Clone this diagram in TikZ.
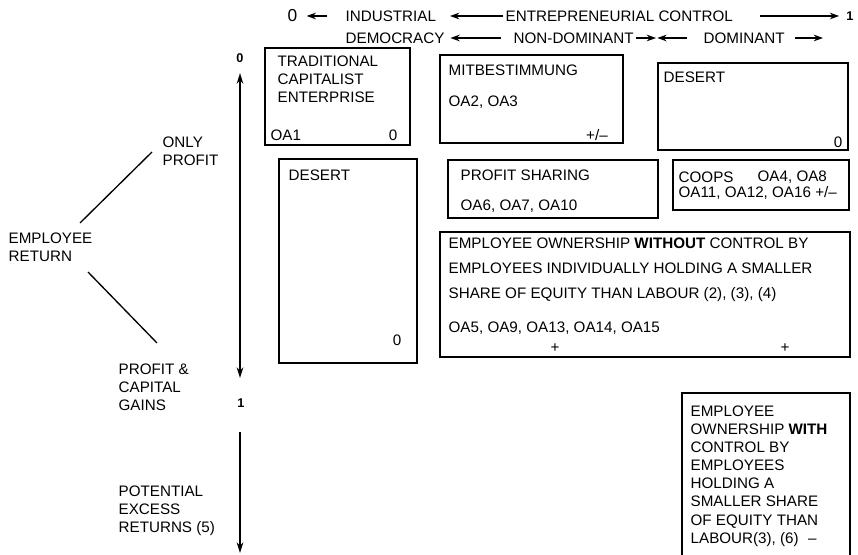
\documentclass[tikz,border=0pt]{standalone}
\usepackage{fontspec}
\setmainfont{Liberation Sans}
\usetikzlibrary{arrows.meta}
\begin{document}
\begin{tikzpicture}[x=.75pt, y=-.75pt, line width=1pt,
	every node/.style={inner sep=0pt, anchor=west, align=left, font=\fontsize{11.4}{13.7}\selectfont},
	tip/.style={-{Stealth[length=7pt, width=5pt]}},
	axisend/.style={-{Stealth[length=8pt, width=5pt]}},
	axisboth/.style={{Stealth[length=8pt, width=5pt]}-{Stealth[length=8pt, width=5pt]}},
	num/.style={anchor=center, font=\fontsize{9.5}{10}\selectfont\bfseries}]
	\useasboundingbox (0,0) rectangle (858,555);
	% header
	\node[font=\fontsize{13}{14}\selectfont] (zero) at (287,16) {0};
	\node     (ind)  at (345,16)  {INDUSTRIAL};
	\node     (ent)  at (505,16)  {ENTREPRENEURIAL CONTROL};
	\node[num] (one) at (850,16)  {1};
	\node     (dem)  at (345,38)  {DEMOCRACY};
	\node     (nond) at (513,38)  {NON-DOMINANT};
	\node     (dom)  at (703,38)  {DOMINANT};
	\coordinate (mid)    at (656,38);
	\coordinate (domend) at (823,38);
	\draw[tip, shorten <=13.5pt, shorten >=6.5pt]  (ind.west) -- (zero.east);
	\draw[tip, shorten <=1.5pt, shorten >=10pt]    (ent.west) -- (ind.east);
	\draw[tip, shorten <=20pt, shorten >=5pt]      (ent.east) -- (one.west);
	\draw[tip, shorten <=9pt, shorten >=4pt]       (nond.west) -- (dem.east);
	\draw[tip, shorten <=1.5pt]                    (nond.east) -- (mid);
	\draw[tip, shorten <=12pt, shorten >=1pt]      (dom.west) -- (mid);
	\draw[tip, shorten <=7pt]                      (dom.east) -- (domend);
	% employee return axis
	\node[num] (top) at (240,58)  {0};
	\node[num] (gap) at (241,403) {1};
	\coordinate (axend) at (240,553);
	\draw[axisboth, shorten <=7.5pt, shorten >=15pt] (top.south) -- (gap.north -| top);
	\draw[axisend, shorten <=18pt] (gap.south -| top) -- (axend);
	\node (only) at (162,151)   {ONLY\\PROFIT};
	\node (ret)  at (8,247.5)   {EMPLOYEE\\RETURN};
	\node (gain) at (118,387.5) {PROFIT \&\\CAPITAL\\GAINS};
	\node (exc)  at (118,511)   {POTENTIAL\\EXCESS\\RETURNS (5)};
	\coordinate (u1) at (80,223);  \coordinate (u2) at (152,152);
	\coordinate (d1) at (88,272);  \coordinate (d2) at (157,343);
	\draw (u1) -- (u2);
	\draw (d1) -- (d2);
	% boxes
	\draw (265,48)  rectangle (410,145);
	\draw (440,55)  rectangle (623,143);
	\draw (658,63)  rectangle (848,150);
	\draw (279,159) rectangle (417,363);
	\draw (448,160) rectangle (658,218);
	\draw (673,160) rectangle (849,210);
	\draw (440,232) rectangle (850,357);
	\draw (682,556) |- (850,393) -- (850,556);
	% box texts
	\node (trad)  at (277,79.5) {TRADITIONAL\\CAPITALIST\\ENTERPRISE};
	\node (oa1)   at (270,135)  {OA1};
	\node[anchor=center] (tradz) at (393,135) {0};
	\node (mit)   at (448,70)   {MITBESTIMMUNG};
	\node (oa2)   at (448,102)  {OA2, OA3};
	\node[anchor=center] (mitpm) at (597,135) {+/--};
	\node (desr)  at (663,77)   {DESERT};
	\node[anchor=center] (desrz) at (838,142) {0};
	\node (desl)  at (288,175)  {DESERT};
	\node[anchor=center] (deslz) at (397,340) {0};
	\node (ps)    at (460,175)  {PROFIT SHARING};
	\node (oa6)   at (460,206)  {OA6, OA7, OA10};
	\node (coops) at (678,177)  {COOPS};
	\node (oa4)   at (757,177)  {OA4, OA8};
	\node (oa11)  at (678,193)  {OA11, OA12, OA16 +/--};
	\node[font=\fontsize{11.4}{18.75}\selectfont] (eo) at (448,270)
		{EMPLOYEE OWNERSHIP \textbf{WITHOUT} CONTROL BY\\EMPLOYEES INDIVIDUALLY HOLDING A SMALLER\\SHARE OF EQUITY THAN LABOUR (2), (3), (4)};
	\node (oa5)   at (448,328)  {OA5, OA9, OA13, OA14, OA15};
	\node[anchor=center] (eop1) at (555,348) {+};
	\node[anchor=center] (eop2) at (785,348) {+};
	\node[font=\fontsize{11.4}{13.6}\selectfont] (eoc) at (690,476)
		{EMPLOYEE\\OWNERSHIP \textbf{WITH}\\CONTROL BY\\EMPLOYEES\\HOLDING A\\SMALLER SHARE\\OF EQUITY THAN\\LABOUR(3), (6)\hspace{7pt}--};
\end{tikzpicture}
\end{document}
